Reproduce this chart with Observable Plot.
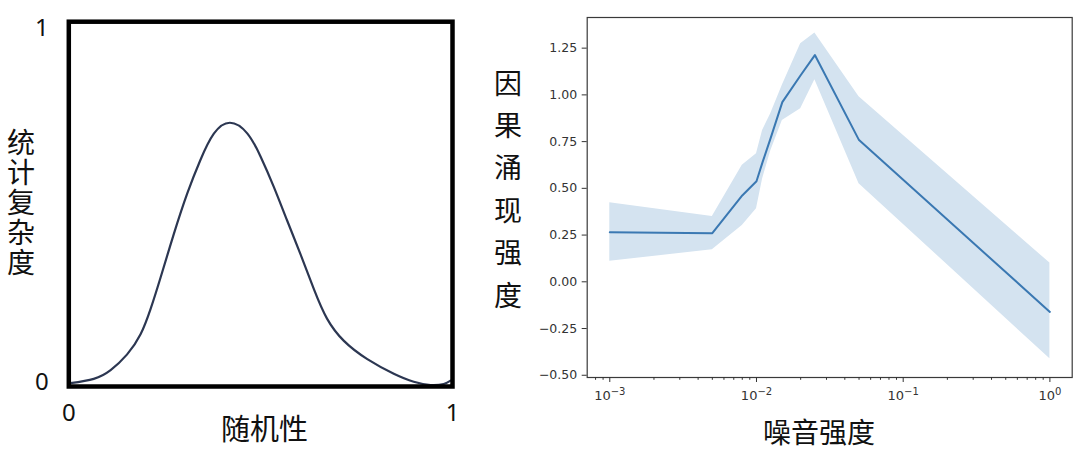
<!DOCTYPE html>
<html>
<head>
<meta charset="utf-8">
<script src="https://cdn.jsdelivr.net/npm/d3@7"></script>
<script src="https://cdn.jsdelivr.net/npm/@observablehq/plot@0.6"></script>
<style>
  html, body { margin: 0; padding: 0; background: #fff; }
  #wrap { position: relative; width: 1080px; height: 456px; overflow: hidden; background: #fff; }
  .panel { position: absolute; top: 0; }
  .lab { position: absolute; font-family: "Noto Sans CJK SC", "Noto Sans", sans-serif; color: #111; line-height: 1; white-space: nowrap; }
  .vert { writing-mode: vertical-rl; text-orientation: upright; }
</style>
</head>
<body>
<div id="wrap">
  <div id="left" class="panel" style="left:0px;"></div>
  <div id="right" class="panel" style="left:500px;"></div>
  <div class="lab vert" style="left:7px; top:128px; font-size:28px; letter-spacing:2.2px;">统计复杂度</div>
  <div class="lab" style="left:221px; top:413px; font-size:29px;">随机性</div>
  <div class="lab vert" style="left:494px; top:69px; font-size:28px; letter-spacing:14.4px;">因果涌现强度</div>
  <div class="lab" style="left:763px; top:417px; font-size:28px;">噪音强度</div>
</div>
<script>
// ---------- Left panel data: 统计复杂度 vs 随机性 ----------
const randomness = [0.004, 0.065, 0.109, 0.152, 0.187, 0.213, 0.239, 0.274, 0.309, 0.343, 0.378, 0.420, 0.465, 0.500, 0.534, 0.569, 0.604, 0.639, 0.673, 0.717, 0.778, 0.847, 0.899, 0.943, 0.977, 0.995];
const complexity = [0.009, 0.021, 0.045, 0.088, 0.143, 0.212, 0.298, 0.419, 0.530, 0.621, 0.693, 0.723, 0.694, 0.630, 0.548, 0.455, 0.362, 0.266, 0.186, 0.125, 0.075, 0.035, 0.013, 0.004, 0.007, 0.016];
const leftXTicks = [0, 1];

// ---------- Right panel data: 因果涌现强度 vs 噪音强度 ----------
const noise = [0.001, 0.005, 0.008, 0.01, 0.011, 0.0125, 0.015, 0.02, 0.025, 0.05, 1.0];
const emergenceMean = [0.265, 0.26, 0.462, 0.538, 0.64, 0.77, 0.961, 1.105, 1.213, 0.758, -0.161];
const emergenceUpper = [0.423, 0.35, 0.623, 0.685, 0.81, 0.899, 1.051, 1.274, 1.331, 0.99, 0.10];
const emergenceLower = [0.110, 0.171, 0.301, 0.391, 0.55, 0.70, 0.863, 0.926, 1.081, 0.525, -0.412];
const yTicks = [-0.5, -0.25, 0, 0.25, 0.5, 0.75, 1.0, 1.25];
const xMajorTicks = [0.001, 0.01, 0.1, 1];
const xDomain = [Math.pow(10, -3.154), Math.pow(10, 0.152)];
const xMinorTicks = [];
for (const d of [-4, -3, -2, -1]) for (let k = 2; k <= 9; k++) {
  const v = k * Math.pow(10, d);
  if (v >= xDomain[0] && v <= xDomain[1]) xMinorTicks.push(v);
}

const leftRows = randomness.map((x, i) => ({x, y: complexity[i]}));
const rightRows = noise.map((x, i) => ({x, mean: emergenceMean[i], lo: emergenceLower[i], hi: emergenceUpper[i]}));

const left = Plot.plot({
  width: 480, height: 456,
  marginLeft: 68.3, marginRight: 28, marginTop: 21.2, marginBottom: 70,
  style: {fontFamily: "'Noto Sans', 'Open Sans', sans-serif", fontSize: "24px", color: "#111", background: "transparent", overflow: "visible"},
  x: {domain: [0, 1]},
  y: {domain: [0, 1]},
  marks: [
    Plot.line(leftRows, {x: "x", y: "y", curve: "natural", stroke: "#2c3752", strokeWidth: 2.2}),
    Plot.frame({stroke: "#000", strokeWidth: 4.5}),
    Plot.axisX(leftXTicks, {tickSize: 0, tickPadding: 17, label: null, tickFormat: d => String(d)}),
    Plot.axisY([0], {tickSize: 0, tickPadding: 20, dy: -4.5, label: null, tickFormat: d => String(d)}),
    Plot.axisY([1], {tickSize: 0, tickPadding: 20, dy: 7, label: null, tickFormat: d => String(d)})
  ]
});
document.getElementById("left").appendChild(left);

const right = Plot.plot({
  width: 580, height: 456,
  marginLeft: 86.7, marginRight: 8.3, marginTop: 17, marginBottom: 79,
  style: {fontFamily: "'DejaVu Sans', sans-serif", fontSize: "12.5px", color: "#333", background: "transparent", overflow: "visible"},
  x: {type: "log", domain: xDomain},
  y: {domain: [-0.512, 1.414]},
  marks: [
    Plot.areaY(rightRows, {x: "x", y1: "lo", y2: "hi", fill: "#d4e3f0"}),
    Plot.lineY(rightRows, {x: "x", y: "mean", stroke: "#3a78b2", strokeWidth: 2}),
    Plot.frame({stroke: "#3a3a3a", strokeWidth: 1.2}),
    Plot.axisY(yTicks, {tickSize: 5, tickPadding: 5, label: null, tickFormat: d => d.toFixed(2).replace("-", "\u2212")}),
    Plot.axisX(xMajorTicks, {tickSize: 5, tickPadding: 8, fontSize: 13, label: null, tickFormat: d => "10^" + Math.round(Math.log10(d))}),
    Plot.axisX(xMinorTicks, {tickSize: 2.8, tickPadding: 0, label: null, tickFormat: () => ""})
  ]
});
// render the power-of-ten labels with a real superscript
right.querySelectorAll("text").forEach(t => {
  const s = t.textContent;
  if (/^10\^/.test(s)) {
    const exp = s.slice(3).replace("-", "\u2212");
    t.textContent = "10";
    const sp = document.createElementNS("http://www.w3.org/2000/svg", "tspan");
    sp.setAttribute("dy", "-0.5em");
    sp.setAttribute("font-size", "10px");
    sp.textContent = exp;
    t.appendChild(sp);
  }
});
document.getElementById("right").appendChild(right);
</script>
</body>
</html>
